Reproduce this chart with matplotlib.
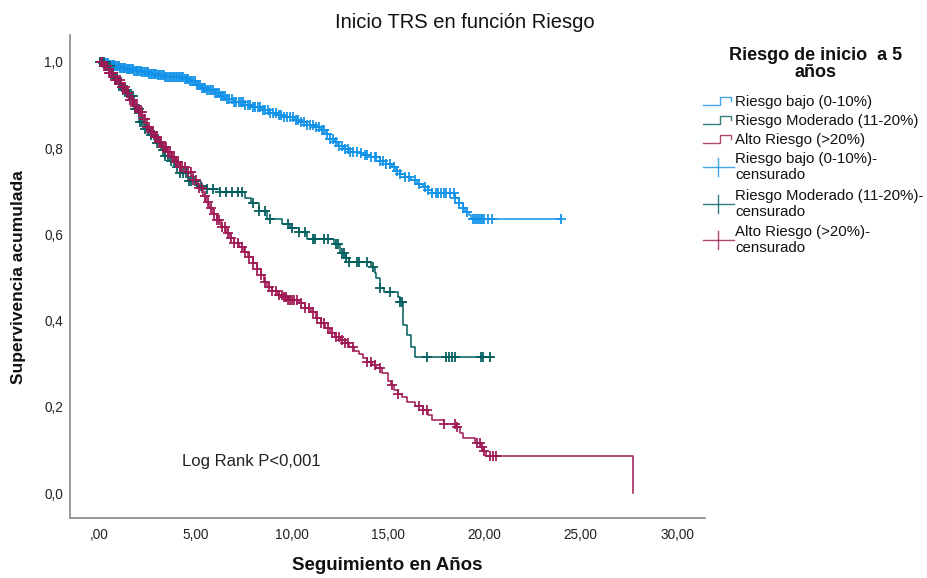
import numpy as np
import matplotlib
matplotlib.use("Agg")
import matplotlib.pyplot as plt
from matplotlib.lines import Line2D

plt.rcParams['font.family'] = ['Liberation Sans', 'DejaVu Sans']

# ---------------- data ----------------
title = "Inicio TRS en función Riesgo"
xlabel = "Seguimiento en Años"
ylabel = "Supervivencia acumulada"
annot = "Log Rank P<0,001"
legend_title = "Riesgo de inicio  a 5\naños"
group_names = ["Riesgo bajo (0-10%)", "Riesgo Moderado (11-20%)", "Alto Riesgo (>20%)"]
censor_names = ["Riesgo bajo (0-10%)-\ncensurado", "Riesgo Moderado (11-20%)-\ncensurado",
                "Alto Riesgo (>20%)-\ncensurado"]
colors = ["#1192e8", "#005d5d", "#9f1853"]

xticks = [0, 5, 10, 15, 20, 25, 30]
xticklabels = [",00", "5,00", "10,00", "15,00", "20,00", "25,00", "30,00"]
yticks = [0.0, 0.2, 0.4, 0.6, 0.8, 1.0]
yticklabels = ["0,0", "0,2", "0,4", "0,6", "0,8", "1,0"]

# Kaplan-Meier step points (time, survival)
bajo_t = [0, 0.2, 0.5, 0.8, 1.1, 1.4, 1.8, 2.2, 2.6, 3.0, 3.4, 3.8, 4.4, 4.7, 5.0, 5.3, 5.6,
          6.0, 6.3, 6.6, 7.0, 7.5, 7.9, 8.4, 8.8, 9.2, 9.6, 10.1, 10.5, 10.8, 11.2, 11.5,
          11.8, 12.0, 12.2, 12.4, 12.7, 13.0, 13.5, 13.8, 14.1, 14.6, 14.9, 15.2, 15.4,
          15.6, 15.9, 16.2, 16.5, 16.8, 17.1, 17.3, 18.5, 18.7, 18.9, 19.0, 19.2, 19.3]
bajo_s = [1.0, 0.997, 0.994, 0.99, 0.987, 0.984, 0.98, 0.977, 0.973, 0.969, 0.966, 0.964,
          0.961, 0.955, 0.947, 0.94, 0.934, 0.927, 0.92, 0.914, 0.907, 0.9, 0.895, 0.888,
          0.882, 0.877, 0.872, 0.865, 0.86, 0.854, 0.848, 0.842, 0.832, 0.822, 0.814, 0.806,
          0.798, 0.792, 0.789, 0.784, 0.779, 0.77, 0.763, 0.756, 0.748, 0.74, 0.733, 0.726,
          0.718, 0.71, 0.702, 0.695, 0.684, 0.672, 0.662, 0.652, 0.645, 0.636]
bajo_end = 24.0

mod_t = [0, 0.3, 0.6, 0.8, 1.0, 1.25, 1.5, 1.8, 2.1, 2.35, 2.6, 2.9, 3.2, 3.45, 3.7, 3.95,
         4.2, 4.6, 5.1, 5.6, 6.3, 7.6, 7.9, 8.3, 8.7, 9.5, 9.9, 10.4, 10.8, 12.2, 12.5,
         12.8, 13.0, 14.1, 14.3, 14.4, 14.6, 14.8, 15.5, 15.6, 15.8, 16.0, 16.2, 16.4]
mod_s = [1.0, 0.99, 0.975, 0.962, 0.95, 0.935, 0.92, 0.89, 0.86, 0.845, 0.83, 0.813, 0.796,
         0.783, 0.77, 0.756, 0.742, 0.725, 0.712, 0.705, 0.698, 0.685, 0.672, 0.655, 0.635,
         0.625, 0.615, 0.605, 0.59, 0.578, 0.557, 0.545, 0.536, 0.524, 0.51, 0.499, 0.475,
         0.466, 0.455, 0.443, 0.39, 0.367, 0.339, 0.316]
mod_end = 20.4

alto_t = [0, 0.25, 0.5, 0.8, 1.1, 1.35, 1.6, 1.8, 2.0, 2.25, 2.5, 2.7, 2.9, 3.1, 3.3, 3.55,
          3.8, 4.0, 4.2, 4.5, 4.9, 5.15, 5.4, 5.55, 5.7, 5.9, 6.1, 6.35, 6.6, 6.8, 7.0, 7.25,
          7.5, 7.75, 8.0, 8.2, 8.4, 8.55, 8.7, 9.0, 9.3, 9.55, 9.8, 10.4, 10.7, 11.0, 11.25,
          11.5, 11.75, 12.0, 12.25, 12.5, 12.75, 13.0, 13.25, 13.5, 13.7, 13.9, 14.15, 14.4,
          14.7, 15.0, 15.15, 15.3, 15.5, 15.7, 16.0, 16.4, 16.8, 17.05, 17.3, 17.9, 18.6,
          18.75, 18.9, 19.5, 19.8, 19.95, 20.1, 27.7]
alto_s = [1.0, 0.99, 0.975, 0.958, 0.942, 0.927, 0.912, 0.898, 0.885, 0.867, 0.849, 0.837,
          0.825, 0.814, 0.803, 0.792, 0.78, 0.768, 0.756, 0.744, 0.726, 0.708, 0.69, 0.676,
          0.662, 0.648, 0.633, 0.618, 0.603, 0.591, 0.58, 0.57, 0.56, 0.547, 0.534, 0.52,
          0.505, 0.49, 0.478, 0.469, 0.46, 0.454, 0.448, 0.441, 0.43, 0.42, 0.407, 0.394,
          0.383, 0.372, 0.363, 0.355, 0.347, 0.339, 0.33, 0.322, 0.313, 0.304, 0.297, 0.29,
          0.278, 0.26, 0.25, 0.239, 0.23, 0.222, 0.211, 0.202, 0.193, 0.18, 0.169, 0.161,
          0.153, 0.14, 0.128, 0.115, 0.107, 0.097, 0.086, 0.0]
alto_end = 27.7

# censoring times
bajo_cens = [0.04, 0.09, 0.15, 0.21, 0.27, 0.33, 0.4, 0.46, 0.52, 0.58, 0.65, 0.71, 0.78,
             0.84, 0.9, 0.97, 1.03, 1.1, 1.16, 1.23, 1.3, 1.36, 1.43, 1.5, 1.56, 1.63, 1.7,
             1.77, 1.84, 1.9, 1.97, 2.04, 2.11, 2.18, 2.25, 2.32, 2.4, 2.47, 2.54, 2.61, 2.68,
             2.76, 2.83, 2.9, 2.98, 3.05, 3.13, 3.2, 3.28, 3.35, 3.43, 3.5, 3.58, 3.66, 3.74,
             3.82, 3.9, 3.98, 4.06, 4.14, 4.22, 4.3, 4.38, 4.46, 4.55, 4.63, 4.72, 4.8, 4.89,
             4.98, 5.07, 5.16, 5.25, 5.34, 5.43, 5.52, 5.62, 5.72, 5.82, 5.92, 6.02, 6.12,
             6.22, 6.33, 6.44, 6.55, 6.66, 6.77, 6.88, 7.0, 7.12, 7.24, 7.36, 7.48, 7.6, 7.72,
             7.85, 7.98, 8.1, 8.23, 8.36, 8.5, 8.63, 8.77, 8.9, 9.04, 9.18, 9.32, 9.46, 9.6,
             9.75, 9.9, 10.05, 10.2, 10.35, 10.5, 10.65, 10.8, 10.95, 11.1, 11.25, 11.4,
             11.55, 11.7, 11.85, 12.0, 12.15, 12.3, 12.45, 12.6, 12.75, 12.9, 13.05, 13.2,
             13.4, 13.6, 13.8, 13.9, 14.1, 14.3, 14.4, 14.6, 14.75, 14.9, 15.1, 15.3, 15.45,
             15.6, 15.9, 16.1, 16.4, 16.6, 16.9, 17.1, 17.3, 17.5, 17.6, 17.75, 17.9, 18.0,
             18.2, 18.4, 18.5, 18.7, 18.9, 19.1, 19.4, 19.5, 19.6, 19.7, 19.8, 19.9, 20.0,
             20.2, 20.4, 24.0]
mod_cens = [0.05, 0.15, 0.25, 0.35, 0.45, 0.55, 0.65, 0.75, 0.85, 0.95, 1.05, 1.15, 1.25,
            1.35, 1.45, 1.55, 1.65, 1.75, 1.85, 1.95, 2.05, 2.15, 2.25, 2.4, 2.55, 2.7, 2.85,
            3.0, 3.15, 3.3, 3.45, 3.6, 3.75, 3.9, 4.05, 4.2, 4.35, 4.5, 4.65, 4.8, 5.0, 5.3,
            5.6, 5.9, 6.3, 6.6, 6.9, 7.2, 7.4, 8.0, 8.3, 8.6, 8.9, 9.8, 10.0, 10.4, 10.7,
            11.1, 11.2, 11.7, 11.9, 12.3, 12.4, 12.6, 12.7, 12.8, 13.0, 13.4, 13.5, 13.9,
            14.2, 14.6, 15.1, 15.6, 15.7, 17.0, 18.0, 18.15, 18.3, 18.5, 19.8, 19.95, 20.3]
alto_cens = [0.08, 0.16, 0.25, 0.33, 0.42, 0.5, 0.58, 0.67, 0.75, 0.84, 0.92, 1.0, 1.09,
             1.17, 1.26, 1.34, 1.43, 1.52, 1.6, 1.69, 1.78, 1.87, 1.96, 2.05, 2.14, 2.23,
             2.32, 2.41, 2.5, 2.6, 2.7, 2.8, 2.9, 3.0, 3.1, 3.2, 3.3, 3.4, 3.5, 3.6, 3.7, 3.8,
             3.9, 4.0, 4.1, 4.2, 4.3, 4.45, 4.6, 4.75, 4.9, 5.05, 5.2, 5.35, 5.5, 5.65, 5.8,
             5.95, 6.1, 6.25, 6.4, 6.55, 6.7, 6.85, 7.0, 7.2, 7.4, 7.6, 7.8, 8.0, 8.2, 8.4,
             8.6, 8.8, 9.0, 9.2, 9.35, 9.5, 9.6, 9.7, 9.8, 9.9, 10.0, 10.1, 10.3, 10.5, 10.7,
             10.9, 11.1, 11.3, 11.5, 11.7, 11.9, 12.1, 12.3, 12.45, 12.6, 12.75, 12.9, 13.2,
             13.9, 14.1, 14.3, 14.6, 15.2, 15.5, 16.6, 16.8, 17.0, 17.9, 18.5, 18.6, 19.6,
             19.75, 19.9, 20.0, 20.3, 20.45, 20.6]

groups = [(bajo_t, bajo_s, bajo_end, bajo_cens),
          (mod_t, mod_s, mod_end, mod_cens),
          (alto_t, alto_s, alto_end, alto_cens)]

# ---------------- figure ----------------
W, H = 928, 578
fig = plt.figure(figsize=(W / 100, H / 100), dpi=100)
ax = fig.add_axes([70 / W, 1 - 518 / H, 635 / W, 483 / H])

for (t, s, end, cens), c in zip(groups, colors):
    tt = list(t)
    ss = list(s)
    if end > tt[-1]:
        tt.append(end)
        ss.append(ss[-1])
    ax.step(tt, ss, where='post', color=c, lw=1.1, zorder=2)
for (t, s, end, cens), c in zip(groups, colors):
    idx = np.searchsorted(np.array(t), np.array(cens), side='right') - 1
    cy = np.array(s)[idx]
    ax.plot(cens, cy, linestyle='none', marker='+', markersize=7, markeredgewidth=1.4,
            color=c, alpha=0.9, zorder=3)

ax.set_xlim(-1.505, 31.45)
ax.set_ylim(-0.058, 1.0626)
ax.set_xticks(xticks)
ax.set_xticklabels(xticklabels)
ax.set_yticks(yticks)
ax.set_yticklabels(yticklabels)
ax.tick_params(length=0, labelsize=9.8, colors='#222222')
ax.tick_params(axis='x', pad=7)
ax.tick_params(axis='y', pad=5)
for sp in ['top', 'right']:
    ax.spines[sp].set_visible(False)
for sp in ['left', 'bottom']:
    ax.spines[sp].set_color('#888888')
    ax.spines[sp].set_linewidth(1.2)

ax.text(4.31, 0.074, annot, fontsize=12, va='center', ha='left', color='#222222')

fig.text(465 / W, 1 - 22 / H, title, fontsize=14.5, ha='center', va='center', color='#111111')
fig.text(387 / W, 1 - 565 / H, xlabel, fontsize=13.5, fontweight='bold', ha='center',
         va='center', color='#111111')
fig.text(19 / W, 1 - 277 / H, ylabel, fontsize=12.5, fontweight='bold', rotation=90,
         ha='center', va='center', color='#111111')

# ---------------- legend (manual) ----------------
fig.text(816 / W, 1 - 64 / H, legend_title, fontsize=13, fontweight='bold', ha='center',
         va='center', linespacing=1.05, color='#111111')

line_y = [102, 121, 140]
for yy, c, name in zip(line_y, colors, group_names):
    xs = [703, 720, 720, 731, 731]
    ys = [yy + 3, yy + 3, yy - 5, yy - 5, yy - 1]
    fx = [x / W for x in xs]
    fy = [1 - y / H for y in ys]
    fig.add_artist(Line2D(fx, fy, color=c, lw=1.0, alpha=0.8))
    fig.text(735 / W, 1 - yy / H, name, fontsize=10.8, ha='left', va='center', color='#111111')

cens_y = [167, 204, 240]
for yy, c, name in zip(cens_y, colors, censor_names):
    fig.add_artist(Line2D([703 / W, 734 / W], [1 - yy / H, 1 - yy / H], color=c, lw=1.0,
                          alpha=0.8))
    fig.add_artist(Line2D([718 / W, 718 / W], [1 - (yy - 9) / H, 1 - (yy + 9) / H], color=c,
                          lw=1.0, alpha=0.8))
    fig.text(735 / W, 1 - yy / H, name, fontsize=10.8, ha='left', va='center',
             linespacing=1.2, color='#111111')

fig.savefig("out.png", dpi=100)
